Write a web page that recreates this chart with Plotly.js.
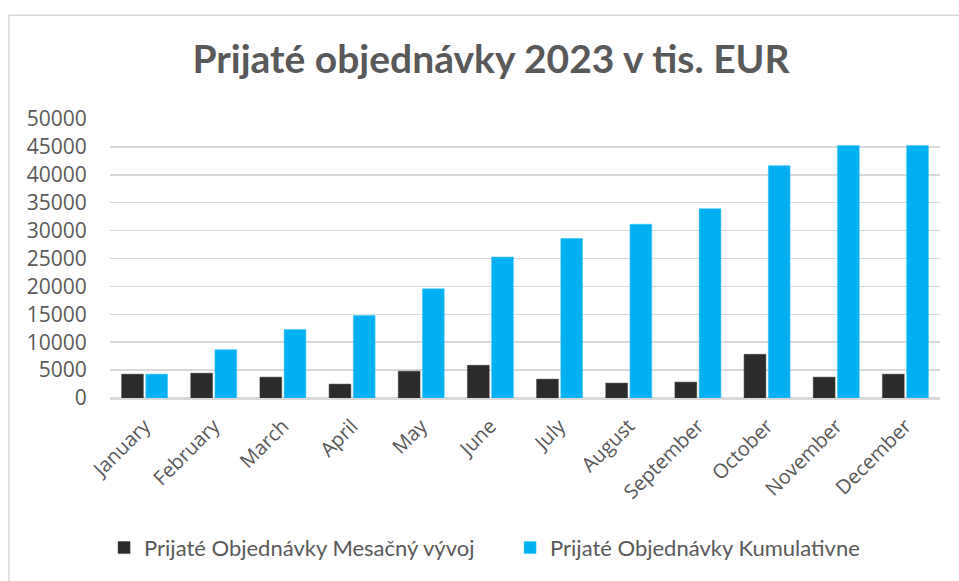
<!DOCTYPE html>
<html>
<head>
<meta charset="utf-8">
<script src="https://cdn.plot.ly/plotly-3.0.1.min.js"></script>
<style>html,body{margin:0;padding:0;background:#fff;}#chart{width:959px;height:581px;}</style>
</head>
<body>
<div id="chart"></div>
<script>
const months = ["January","February","March","April","May","June","July","August","September","October","November","December"];
const monthly = [4270, 4450, 3740, 2490, 4800, 5870, 3380, 2670, 2850, 7830, 3740, 4270];
const cumulative = [4270, 8660, 12280, 14770, 19570, 25270, 28590, 31140, 33930, 41640, 45250, 45250];
const seriesNames = ["Prijaté Objednávky Mesačný vývoj", "Prijaté Objednávky Kumulativne"];
const yTicks = [0,5000,10000,15000,20000,25000,30000,35000,40000,45000,50000];

const gray = "#595959";
const traces = [
  {type:"bar", x:months, y:monthly, name:seriesNames[0], marker:{color:"#2b2b2b", line:{color:"#3a3a3a", width:0.5}}},
  {type:"bar", x:months, y:cumulative, name:seriesNames[1], marker:{color:"#00B0F0", line:{color:"#33c2f5", width:0.5}}}
];
const layout = {
  width:959, height:581,
  margin:{l:110, r:19, t:119, b:181},
  paper_bgcolor:"#fff", plot_bgcolor:"#fff",
  font:{family:"Open Sans", color:gray},
  title:{text:"<b>Prijaté objednávky 2023 v tis. EUR</b>", font:{family:"Lato", size:39, color:gray}, x:0.512, xanchor:"center", xref:"container", y:0.897, yanchor:"middle", yref:"container"},
  barmode:"group", bargap:0.30, bargroupgap:0.1,
  xaxis:{tickangle:-45, tickfont:{family:"Open Sans", size:20, color:gray}, showline:true, linecolor:"#d9d9d9", linewidth:1.5, ticks:"outside", ticklen:7, tickcolor:"rgba(0,0,0,0)", showgrid:false},
  yaxis:{range:[0,50000], tickvals:yTicks, ticktext:yTicks.map(String), tickfont:{family:"Open Sans", size:21, color:gray}, showgrid:true, gridcolor:"#d9d9d9", gridwidth:1.5, zeroline:true, zerolinecolor:"#d9d9d9", zerolinewidth:1.5, showline:false, ticks:"outside", ticklen:18, tickcolor:"rgba(0,0,0,0)"},
  legend:{orientation:"h", x:0.482, xanchor:"center", y:-0.537, yanchor:"middle", font:{family:"Lato", size:22, color:gray}, itemwidth:30, entrywidth:361, entrywidthmode:"pixels", traceorder:"normal"},
  shapes:[{type:"rect", xref:"paper", yref:"paper", x0:(9-110)/830, x1:(990-110)/830, y0:(398-600)/281, y1:(398-12.5)/281, line:{color:"#d9d9d9", width:1.5}, fillcolor:"rgba(0,0,0,0)", layer:"below"}],
  showlegend:true
};
Plotly.newPlot("chart", traces, layout, {displayModeBar:false, staticPlot:true});
</script>
</body>
</html>
